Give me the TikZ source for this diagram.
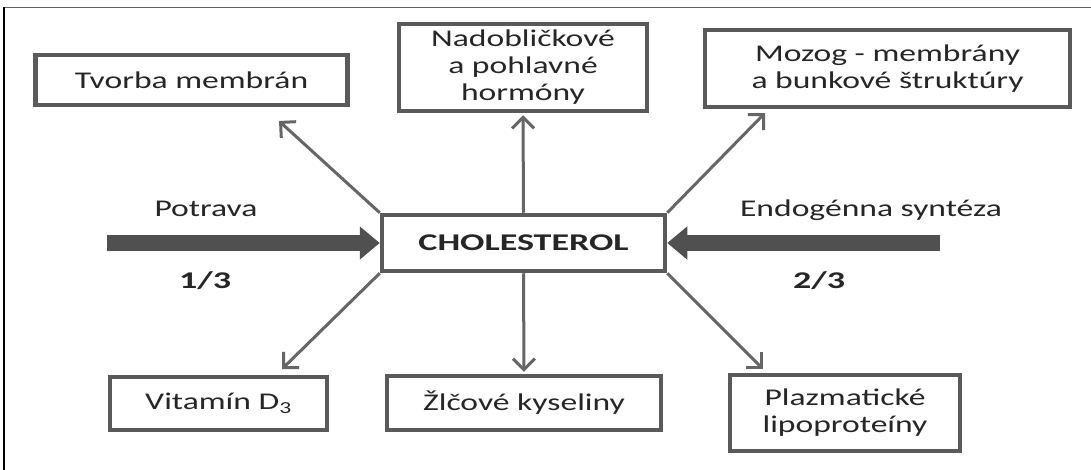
\documentclass[tikz,border=0pt]{standalone}
\usepackage{fontspec}
\setmainfont{Carlito}[FakeStretch=1.40]
\newfontfamily\heavyfont{Carlito}[FakeStretch=1.50]
\usetikzlibrary{arrows.meta}
\definecolor{boxline}{HTML}{5A5A5A}
\definecolor{linkline}{HTML}{666666}
\definecolor{flowline}{HTML}{505050}
\definecolor{ink}{HTML}{262626}
\definecolor{rule}{HTML}{606060}
\begin{document}
\begin{tikzpicture}[x=1pt,y=-1pt,
  box/.style={draw=boxline,line width=4.5pt,fill=white,inner sep=0pt,align=center,
    text=ink,font=\fontsize{24}{27}\selectfont},
  link/.style={draw=linkline,line width=3pt,
    -{Straight Barb[length=11pt,width=22pt,line width=3pt]}},
  flow/.style={draw=flowline,line width=15pt,-{Triangle[length=20pt,width=32pt]}},
  lab/.style={anchor=base,text=ink,font=\fontsize{24}{27}\selectfont},
  frac/.style={anchor=base,text=ink,font=\heavyfont\bfseries\fontsize{24}{27}\selectfont}]

% canvas and frame edges
\useasboundingbox (0,0) rectangle (1091,470);
\fill[white] (0,0) rectangle (1091,470);
\draw[rule,line width=1.5pt] (4,7.5) -- (1091,7.5);
\draw[black,line width=2pt] (4,7.5) -- (4,470);

% boxes
\node[box,minimum width=312pt,minimum height=50pt] (tvorba) at (191.5,80) {Tvorba\ membrán};
\node[box,minimum width=248pt,minimum height=87pt] (nadob) at (523,67.5) {Nadobličkové\\a pohlavné\\hormóny};
\node[box,minimum width=365pt,minimum height=77pt] (mozog) at (887.5,68.5) {Mozog\ - membrány\\a bunkové\ štruktúry};
\node[box,minimum width=283pt,minimum height=56pt,font=\heavyfont\bfseries\fontsize{24}{27}\selectfont] (chol) at (523.5,243) {CHOLESTEROL};
\node[box,minimum width=217pt,minimum height=53pt] (vitd) at (218.5,403.5) {Vitamín D\textsubscript{3}};
\node[box,minimum width=274pt,minimum height=54pt] (zlc) at (524,403) {Žlčové kyseliny};
\node[box,minimum width=230pt,minimum height=76pt] (plaz) at (845,413) {Plazmatické\\lipoproteíny};

% inflow arrows
\coordinate (foodsrc) at (107,243);
\coordinate (synthsrc) at (940,243);
\draw[flow] (foodsrc) -- (chol.west);
\draw[flow] (synthsrc) -- (chol.east);

\node[lab] (food) at (206,217) {Potrava};
\node[frac] (third) at (205,288) {1/3};
\node[lab] (synth) at (871,217) {Endogénna syntéza};
\node[frac] (twothirds) at (819,288) {2/3};

% outflow arrows
\coordinate (tvorbatip) at (279,121);
\coordinate (mozogtip) at (765,113);
\coordinate (vittip) at (282,369);
\coordinate (plaztip) at (763,369);
\draw[link] (chol.north west) -- (tvorbatip);
\draw[link,shorten >=2pt] (chol.north) -- (nadob.south);
\draw[link] (chol.north east) -- (mozogtip);
\draw[link] (chol.south west) -- (vittip);
\draw[link,shorten >=2pt] (chol.south) -- (zlc.north);
\draw[link] (chol.south east) -- (plaztip);
\end{tikzpicture}
\end{document}
